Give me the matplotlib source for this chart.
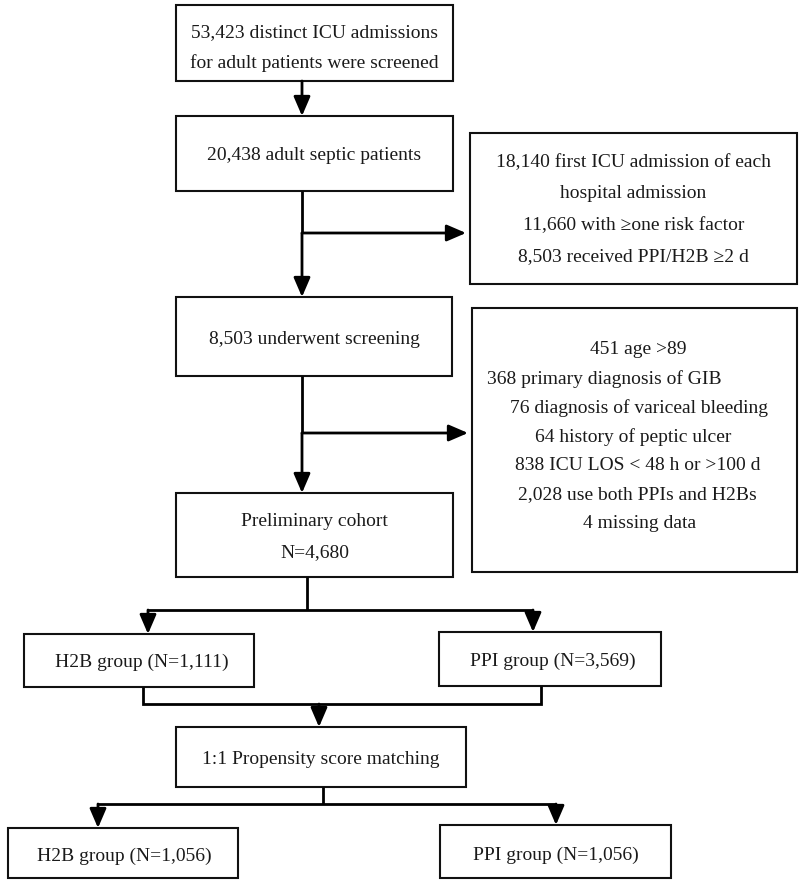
import matplotlib
matplotlib.use("Agg")
import matplotlib.pyplot as plt
from matplotlib.patches import Rectangle

plt.rcParams['font.family'] = ['Liberation Serif', 'DejaVu Serif']

# box texts (the data of the flowchart)
screened_lines = ["53,423 distinct ICU admissions", "for adult patients were screened"]
septic_lines = ["20,438 adult septic patients"]
excluded1_lines = ["18,140 first ICU admission of each", "hospital admission",
                   "11,660 with \u2265one risk factor", "8,503 received PPI/H2B \u22652 d"]
screening_lines = ["8,503 underwent screening"]
excluded2_lines = ["451 age >89", "368 primary diagnosis of GIB",
                   "76 diagnosis of variceal bleeding", "64 history of peptic ulcer",
                   "838 ICU LOS < 48 h or >100 d", "2,028 use both PPIs and H2Bs",
                   "4 missing data"]
cohort_lines = ["Preliminary cohort", "N=4,680"]
h2b_before = ["H2B group (N=1,111)"]
ppi_before = ["PPI group (N=3,569)"]
psm_lines = ["1:1 Propensity score matching"]
h2b_after = ["H2B group (N=1,056)"]
ppi_after = ["PPI group (N=1,056)"]

W, H = 799, 880
fig = plt.figure(figsize=(W / 100, H / 100), dpi=100)
ax = fig.add_axes([0, 0, 1, 1])
ax.set_xlim(0, W)
ax.set_ylim(H, 0)
ax.axis("off")

FS = 14


def box(x0, y0, x1, y1, lines, ys, xs=None):
    ax.add_patch(Rectangle((x0, y0), x1 - x0, y1 - y0, fill=False,
                           edgecolor="#111111", lw=1.5))
    for i, (t, y) in enumerate(zip(lines, ys)):
        x = xs[i] if xs is not None else (x0 + x1) / 2
        ax.text(x, y, t, ha="center", va="center", fontsize=FS, color="#1a1a1a")


def line(xs, ys):
    ax.plot(xs, ys, color="black", lw=2.0, solid_capstyle="butt",
            solid_joinstyle="miter")


def arrow(x0, y0, x1, y1):
    ax.annotate("", xy=(x1, y1), xytext=(x0, y0),
                arrowprops=dict(arrowstyle="-|>,head_length=0.65,head_width=0.28",
                                lw=2.0, color="black", shrinkA=0, shrinkB=0,
                                mutation_scale=18))


# left column
box(176, 5, 453, 81, screened_lines, [33, 63])
arrow(302, 81, 302, 116)
box(176, 116, 453, 191, septic_lines, [155])
line([302, 302], [191, 233])
arrow(302, 233, 466, 233)
arrow(302, 233, 302, 297)
box(470, 133, 797, 284, excluded1_lines, [163, 194, 226, 257])

box(176, 297, 452, 376, screening_lines, [339])
line([302, 302], [376, 433])
arrow(302, 433, 468, 433)
arrow(302, 433, 302, 493)
box(472, 308, 797, 572, excluded2_lines,
    [350, 379, 408, 437, 466, 495, 524],
    [638, 604, 639, 633, 638, 637, 640])

box(176, 493, 453, 577, cohort_lines, [522, 553])

# split into two groups
line([307, 307], [577, 610])
line([148, 533], [610, 610])
arrow(148, 610, 148, 634)
arrow(533, 610, 533, 632)
box(24, 634, 254, 687, h2b_before, [662], [142])
box(439, 632, 661, 686, ppi_before, [661], [553])

# merge into matching
line([143, 143, 541, 541], [687, 704, 704, 686])
arrow(319, 704, 319, 727)
box(176, 727, 466, 787, psm_lines, [760])

# split after matching
line([323, 323], [787, 804])
line([98, 556], [804, 804])
arrow(98, 804, 98, 828)
arrow(556, 804, 556, 825)
box(8, 828, 238, 878, h2b_after, [856], [124])
box(440, 825, 671, 878, ppi_after, [855], [556])

fig.savefig("out.png", dpi=100, facecolor="white")
